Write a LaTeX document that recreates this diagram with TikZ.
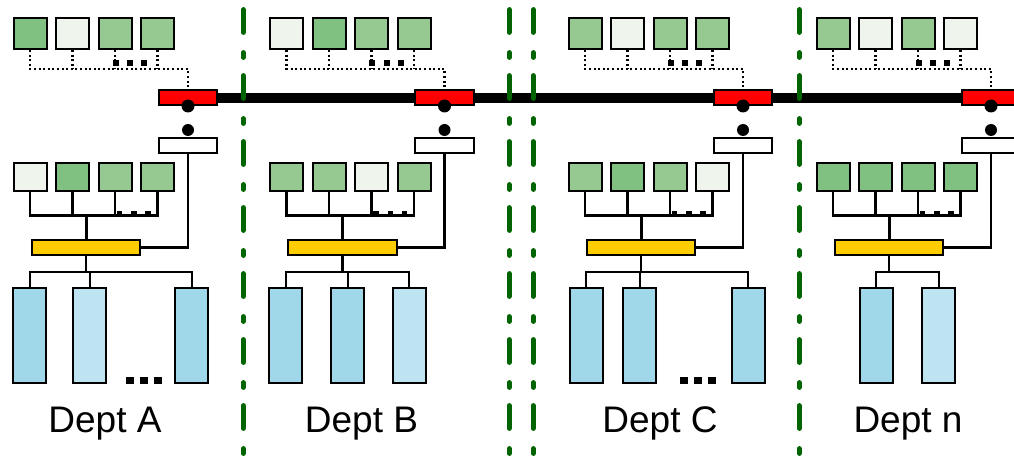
\documentclass[tikz,border=0pt]{standalone}
\usepackage{fontspec}
\setmainfont{Liberation Sans}
\usetikzlibrary{backgrounds}

\definecolor{gdark}{RGB}{128,192,128}
\definecolor{gmid}{RGB}{149,201,145}
\definecolor{glight}{RGB}{239,245,236}
\definecolor{bdark}{RGB}{160,216,234}
\definecolor{blight}{RGB}{190,228,242}
\definecolor{hubyellow}{RGB}{255,204,0}
\definecolor{divgreen}{RGB}{0,100,0}

\tikzset{
  box/.style={draw=black, line width=2pt, inner sep=0pt},
  topsq/.style={box, minimum width=33pt, minimum height=31pt},
  lowsq/.style={box, minimum width=33pt, minimum height=28pt},
  gateway/.style={box, fill=red, minimum width=58.6pt, minimum height=14.6pt},
  router/.style={box, fill=white, minimum width=58.6pt, minimum height=15pt},
  switchbar/.style={box, fill=hubyellow, minimum width=108.6pt, minimum height=14.4pt},
  rack/.style={box, minimum width=33pt, minimum height=94.4pt},
  port/.style={circle, fill=black, inner sep=0pt, minimum size=#1},
  wire/.style={line width=2.2pt},
  trunk/.style={line width=3pt},
  dotwire/.style={line width=2.2pt, dash pattern=on 2pt off 2.6pt},
  bus/.style={line width=10pt},
  divider/.style={draw=divgreen, line width=5.3pt, line cap=round,
    dash pattern=on 22.6pt off 20.4pt on 4.6pt off 18.4pt},
  deptlabel/.style={font=\fontsize{37}{44}\selectfont, anchor=base},
}

% One department: #1 prefix, #2 label, #3 top host colours, #4 lower host colours
\newcommand\deptunit[4]{%
  % hosts on the upper row, joined by a dotted link to the gateway
  \foreach \c [count=\i] in {#3} {
    \node[topsq, fill=\c] (#1-t\i) at ({30+42.5*(\i-1)}, 33.5) {};
  }
  \node[gateway] (#1-gw) at (188, 97.7) {};
  \node[port=13pt] (#1-p1) at (188, 106) {};
  \node[port=12pt] (#1-p2) at (188, 130) {};
  \node[router] (#1-rt) at (188, 145.5) {};
  \coordinate (#1-tj) at (188, 69);
  \draw[dotwire] (#1-t1.south) |- (#1-tj) -- (#1-gw.north);
  \foreach \i in {2,3,4} {
    \draw[dotwire] (#1-t\i.south) -- (#1-t\i.south |- #1-tj);
  }
  \foreach \x in {115.7,130,144.3} {
    \fill (\x-3, 60.5) rectangle (\x+3, 66.5);
  }
  % hosts on the lower row, joined to the switch
  \foreach \c [count=\i] in {#4} {
    \node[lowsq, fill=\c] (#1-l\i) at ({30+42.5*(\i-1)}, 177) {};
  }
  \node[switchbar] (#1-sw) at (86, 247.5) {};
  \coordinate (#1-lj) at (86, 215.5);
  \draw[wire] (#1-l1.south) |- (#1-l4.south |- #1-lj) -- (#1-l4.south);
  \foreach \i in {2,3} {
    \draw[wire] (#1-l\i.south) -- (#1-l\i.south |- #1-lj);
  }
  \foreach \x in {119.5,134,148} {
    \fill (\x-2.8, 210.5) rectangle (\x+2.8, 216.5);
  }
  \draw[trunk] (#1-lj) -- (#1-sw.north);
  \draw[wire] (#1-rt.south) |- (#1-sw.east);
  \coordinate (#1-bj) at (86, 271.7);
  \draw[wire] (#1-sw.south) -- (#1-bj);
  \node[deptlabel] (#1-name) at (105, 432) {#2};
}

\begin{document}
\begin{tikzpicture}[x=1pt, y=-1pt]
\useasboundingbox (0,0) rectangle (1014,457);
\clip (0,0) rectangle (1014,457);

% Department A
\begin{scope}
  \deptunit{A}{Dept A}{gdark,glight,gmid,gmid}{glight,gdark,gmid,gmid}
  \node[rack, fill=bdark]  (A-r1) at (29.7, 335.5) {};
  \node[rack, fill=blight] (A-r2) at (89.9, 335.5) {};
  \node[rack, fill=bdark]  (A-r3) at (191.8, 335.5) {};
  \draw[wire] (A-r1.north) |- (A-r3.north |- A-bj) -- (A-r3.north);
  \draw[wire] (A-r2.north) -- (A-r2.north |- A-bj);
  \foreach \x in {126,140,154} { \fill (\x, 376.5) rectangle (\x+8, 384); }
\end{scope}

% Department B
\begin{scope}[xshift=256.5pt]
  \deptunit{B}{Dept B}{glight,gdark,gmid,gmid}{gmid,gmid,glight,gmid}
  \node[rack, fill=bdark]  (B-r1) at (29.3, 335.5) {};
  \node[rack, fill=bdark]  (B-r2) at (91.3, 335.5) {};
  \node[rack, fill=blight] (B-r3) at (152.5, 335.5) {};
  \draw[wire] (B-r1.north) |- (B-r3.north |- B-bj) -- (B-r3.north);
  \draw[wire] (B-r2.north) -- (B-r2.north |- B-bj);
\end{scope}

% Department C
\begin{scope}[xshift=555pt]
  \deptunit{C}{Dept C}{gmid,glight,gmid,gmid}{gmid,gdark,gmid,glight}
  \node[rack, fill=bdark] (C-r1) at (31.2, 335.5) {};
  \node[rack, fill=bdark] (C-r2) at (84.9, 335.5) {};
  \node[rack, fill=bdark] (C-r3) at (193.2, 335.5) {};
  \draw[wire] (C-r1.north) |- (C-r3.north |- C-bj) -- (C-r3.north);
  \draw[wire] (C-r2.north) -- (C-r2.north |- C-bj);
  \foreach \x in {125,139,153} { \fill (\x, 376.5) rectangle (\x+8, 384); }
\end{scope}

% Department n
\begin{scope}[xshift=803pt]
  \deptunit{N}{Dept n}{gmid,glight,gmid,glight}{gdark,gdark,gdark,gdark}
  \node[rack, fill=bdark]  (N-r1) at (73.2, 335.5) {};
  \node[rack, fill=blight] (N-r2) at (135.6, 335.5) {};
  \draw[wire] (N-r1.north) |- (N-r2.north |- N-bj) -- (N-r2.north);
\end{scope}

% backbone bus joining the gateways
\begin{pgfonlayer}{background}
  \draw[bus] (A-gw.center) -- (B-gw.center) -- (C-gw.center) -- (N-gw.center) -- ++(80,0);
\end{pgfonlayer}

% department boundaries
\foreach \x in {243.3,509.3,533.3,799.3} {
  \draw[divider] (\x, 9.7) -- (\x, 455);
}
\end{tikzpicture}
\end{document}
